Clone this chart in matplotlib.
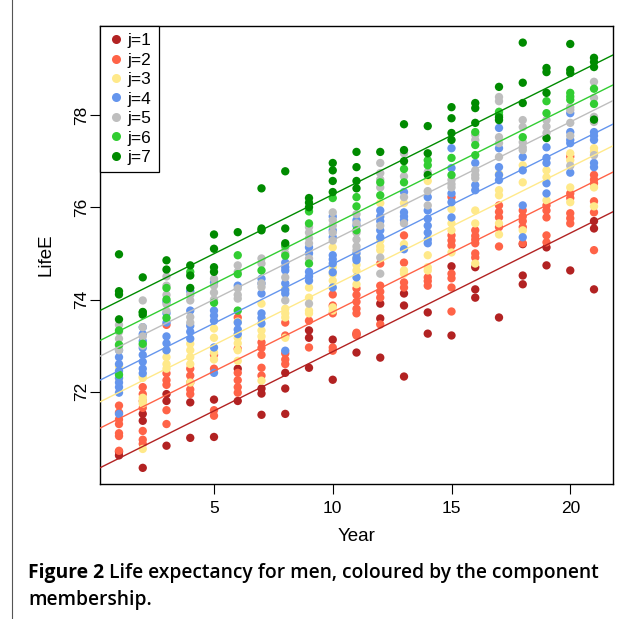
import matplotlib
matplotlib.use("Agg")
import matplotlib.pyplot as plt
from matplotlib.lines import Line2D

years = list(range(1, 22))

# life expectancy values per component, one list per year (1..21)
j1 = [[70.7, 70.62], [71.52, 71.37, 70.35], [71.95, 71.8, 70.83], [71.77, 71.0],
      [71.83, 71.02], [72.5, 71.8], [72.07, 71.96, 71.5], [72.41, 72.07, 71.52],
      [73.33, 73.17, 72.52], [73.13, 72.26], [73.25, 72.85], [73.91, 73.59, 72.74],
      [74.13, 73.87, 72.33], [73.72, 73.26], [74.72, 73.22], [74.7, 74.22, 74.04],
      [73.61], [75.2, 74.52, 74.33], [75.13, 74.74], [74.63], [75.7, 75.54, 74.22]]
j2 = [[71.7, 71.55, 71.4, 71.3, 71.1, 71.04, 70.72],
      [72.1, 71.95, 71.8, 71.65, 71.15, 70.96, 70.87],
      [73.45, 72.4, 72.25, 72.15, 71.6, 71.3],
      [72.5, 72.35, 72.2, 72.05, 71.95],
      [72.8, 72.5, 71.6, 71.48],
      [73.61, 72.93, 72.41, 72.25, 72.1, 71.98],
      [73.07, 72.95, 72.8, 72.52, 72.35],
      [73.5, 73.22, 72.83, 72.7, 72.6],
      [73.54, 72.96],
      [74.11, 73.87, 73.7, 72.96, 72.89],
      [74.24, 74.1, 73.95, 73.8, 73.7, 73.28, 73.22],
      [74.78, 74.3, 74.17, 74.04, 73.46],
      [75.39, 74.8, 74.37, 74.26],
      [74.48, 74.4, 74.3],
      [76.22, 75.39, 75.28, 75.17, 74.56, 74.46, 74.26, 73.74],
      [75.5, 75.38, 75.3, 75.22, 75.0, 74.91],
      [76.04, 75.9, 75.78, 75.57, 75.15],
      [75.93, 75.8, 75.7, 75.57, 75.22],
      [76.04, 75.93, 75.78, 75.39, 75.24],
      [77.1, 76.3, 76.2, 75.87, 75.76, 75.65],
      [76.7, 76.6, 76.52, 76.13, 75.89, 75.07]]
j3 = [[72.55, 72.28], [72.33, 72.3, 71.87, 71.8, 71.74, 70.76],
      [72.9, 72.75, 72.6, 72.5], [73.04, 72.9, 72.75, 72.6, 72.2],
      [73.37, 73.17, 72.85, 72.7], [73.52, 73.17, 73.05, 72.9, 72.67],
      [73.91, 73.33, 73.2, 72.24], [74.24, 73.8, 73.7, 73.61, 73.17],
      [74.26, 74.04, 73.76, 73.7], [75.13, 74.7, 74.55, 74.41, 73.83, 73.76],
      [74.91, 74.75, 74.63, 74.33], [76.09, 75.28, 75.15, 75.07],
      [76.09, 75.2, 74.63, 74.56], [76.57, 74.96, 74.7, 74.63],
      [75.96, 75.65, 75.5, 75.02], [75.93, 75.65, 74.78],
      [76.72, 76.37, 76.26, 75.65, 75.41], [76.91, 76.54, 75.5],
      [76.8, 76.65, 76.15], [77.17, 77.02, 76.43, 76.11],
      [77.28, 77.2, 76.43, 76.02]]
j4 = [[72.9, 72.75, 72.6, 72.45, 72.3, 72.2, 72.1, 71.98, 71.52],
      [73.4, 73.25, 73.1, 72.95, 72.8, 72.65, 72.5, 72.4],
      [73.95, 73.7, 73.5, 73.2, 73.05, 72.9],
      [74.18, 73.76, 73.43, 73.3, 73.15],
      [74.37, 73.76, 73.65, 73.54, 72.96, 72.41],
      [74.3, 73.5, 73.35, 73.25],
      [74.45, 74.35, 74.13, 73.7, 73.6, 73.48],
      [74.8, 74.7, 74.63, 74.35, 74.2, 74.13, 72.89],
      [75.13, 75.0, 74.6, 74.5, 74.41],
      [75.8, 75.5, 75.35, 74.96, 74.87, 74.78, 74.59, 74.26],
      [75.72, 75.6, 75.0, 74.9, 74.85, 74.48],
      [75.93, 75.8, 75.7, 75.5, 75.35],
      [76.33, 75.89, 75.8, 75.72, 75.09],
      [76.22, 75.93, 75.75, 75.6, 75.45, 75.3, 75.22],
      [77.28, 76.85, 76.3, 76.11, 75.78],
      [76.96, 76.48, 76.37],
      [77.72, 77.28, 76.87, 76.7, 76.59],
      [77.09, 76.8, 76.04, 75.35],
      [77.3, 77.07, 76.96, 76.52, 76.3],
      [78.04, 77.63, 77.46, 77.39, 76.75],
      [77.63, 77.55, 77.46, 76.96, 76.87]]
j5 = [[73.45, 73.3, 73.15, 73.0, 72.9], [73.98, 73.4, 73.2, 73.0],
      [74.5, 74.3, 74.1, 73.9, 73.75], [74.1, 73.98, 73.62, 73.5],
      [74.45, 74.3, 74.15, 74.0], [74.74, 74.6, 74.24, 74.1, 74.02],
      [74.89, 74.78, 74.35, 74.27], [75.13, 75.0, 74.48, 73.98],
      [75.57, 75.45, 75.33, 75.22, 74.89, 73.91], [75.89, 75.72, 75.6, 75.45, 75.28],
      [75.85, 75.65, 75.45, 75.3, 75.15, 75.07],
      [76.96, 76.74, 76.6, 76.43, 75.6, 74.91, 74.56],
      [77.17, 76.67, 76.22, 75.65], [76.76, 76.35, 76.04],
      [76.59, 76.5, 76.43], [77.57, 77.46, 76.8, 76.7, 76.63],
      [78.39, 78.3, 77.52, 77.39, 77.09], [77.89, 77.74, 77.41, 77.3, 77.24],
      [77.89, 77.75, 77.61], [78.17, 78.11, 77.83, 77.55, 76.9],
      [78.72, 78.37, 77.96, 77.85, 77.13]]
j6 = [[73.33, 73.02, 72.37], [73.72, 73.04], [74.25, 74.0, 73.6], [74.6],
      [73.93], [74.96, 74.55, 73.76], [74.63], [75.17, 74.95],
      [75.91, 75.65, 74.78], [76.2], [76.22, 76.02, 75.5], [76.54, 76.26],
      [76.83, 76.54], [77.02, 76.91], [77.07, 76.7], [77.63, 77.35, 77.13],
      [78.07, 78.0], [77.52], [78.3, 78.04], [78.48, 78.4, 78.33], [78.57, 78.24]]
j7 = [[74.98, 74.18, 74.11, 73.57], [74.48, 73.73, 73.67], [74.85, 74.65],
      [74.74, 74.52, 74.25], [75.41, 75.1, 74.7, 74.6], [75.46],
      [76.41, 75.54, 75.5], [76.78, 75.54, 75.22], [76.2, 76.1, 76.0],
      [76.96, 76.8, 76.57, 76.33], [77.2, 76.87, 76.57, 76.41], [77.2],
      [77.8, 77.24, 77.0], [77.76, 77.17, 76.7], [78.17, 77.93, 77.61, 77.46],
      [78.26, 78.15, 77.83], [78.61, 77.95, 77.89], [79.57, 78.7, 78.26],
      [79.02, 78.93, 78.48, 77.5], [79.54, 78.98, 78.91],
      [79.24, 79.15, 79.04, 77.9]]

components = [j1, j2, j3, j4, j5, j6, j7]
labels = ["j=1", "j=2", "j=3", "j=4", "j=5", "j=6", "j=7"]
colors = ["#B22222", "#FF6347", "#FFE98A", "#6495ED", "#BEBEBE", "#32CD32", "#008B00"]

# fitted lines per component (intercept at Year=0, common slope)
intercepts = [70.30, 71.16, 71.73, 72.20, 72.72, 73.06, 73.71]
slopes = [0.257, 0.257, 0.257, 0.257, 0.2565, 0.2565, 0.2565]

fig = plt.figure(figsize=(6.38, 6.19), dpi=100)
ax = fig.add_axes([100/638, 1-484/619, 513/638, 458/619])

for comp, col in zip(components, colors):
    xs, ys = [], []
    for yr, vals in zip(years, comp):
        xs += [yr]*len(vals)
        ys += vals
    ax.scatter(xs, ys, s=36, color=col, edgecolors="none", zorder=2)

xline = [0.0, 22.0]
for a, b, col in zip(intercepts, slopes, colors):
    ax.plot(xline, [a + b*x for x in xline], color=col, lw=1.0, zorder=3)

ax.set_xlim(0.2, 21.8)
ax.set_ylim(70.0, 79.93)
ax.set_xticks([5, 10, 15, 20])
ax.set_yticks([72, 74, 76, 78])
tfont = "Liberation Sans"
ax.set_xticklabels(["5", "10", "15", "20"], fontsize=12.5, family=tfont)
ax.set_yticklabels(["72", "74", "76", "78"], fontsize=12.5, family=tfont,
                   rotation=90, va="center")
ax.tick_params(direction="out", length=7, width=0.8)
ax.tick_params(axis="x", pad=5)
ax.tick_params(axis="y", pad=1)
ax.set_xlabel("Year", fontsize=13.5, family=tfont, labelpad=9)
ax.set_ylabel("LifeE", fontsize=13.5, family=tfont, labelpad=14)
for sp in ax.spines.values():
    sp.set_linewidth(1.0)

handles = [Line2D([], [], ls="none", marker="o", ms=6.5, mfc=c, mec="none") for c in colors]
leg = ax.legend(handles, labels, loc="upper left", bbox_to_anchor=(0, 1),
                borderaxespad=0, frameon=True, fancybox=False, framealpha=1,
                edgecolor="black", prop={"family": tfont, "size": 12.5},
                handletextpad=0.2, handlelength=1.0, labelspacing=0.25,
                borderpad=0.4)
leg.get_frame().set_linewidth(0.9)

# figure frame left rule
fig.add_artist(Line2D([12/638, 12/638], [0, 1], transform=fig.transFigure,
                      color="#555555", lw=0.8))

cap_font = "Open Sans"
cap_size = 13.9
t1 = fig.text(28/638, 1-573/619, "Figure 2", fontsize=cap_size, family=cap_font,
              weight="bold", va="center", ha="left")
fig.canvas.draw()
bb = t1.get_window_extent()
fig.text((bb.x1 + 5)/638, 1-573/619, "Life expectancy for men, coloured by the component",
         fontsize=cap_size, family=cap_font, weight="semibold", va="center", ha="left")
fig.text(28/638, 1-600/619, "membership.", fontsize=cap_size, family=cap_font,
         weight="semibold", va="center", ha="left")

fig.savefig("out.png", dpi=100)
